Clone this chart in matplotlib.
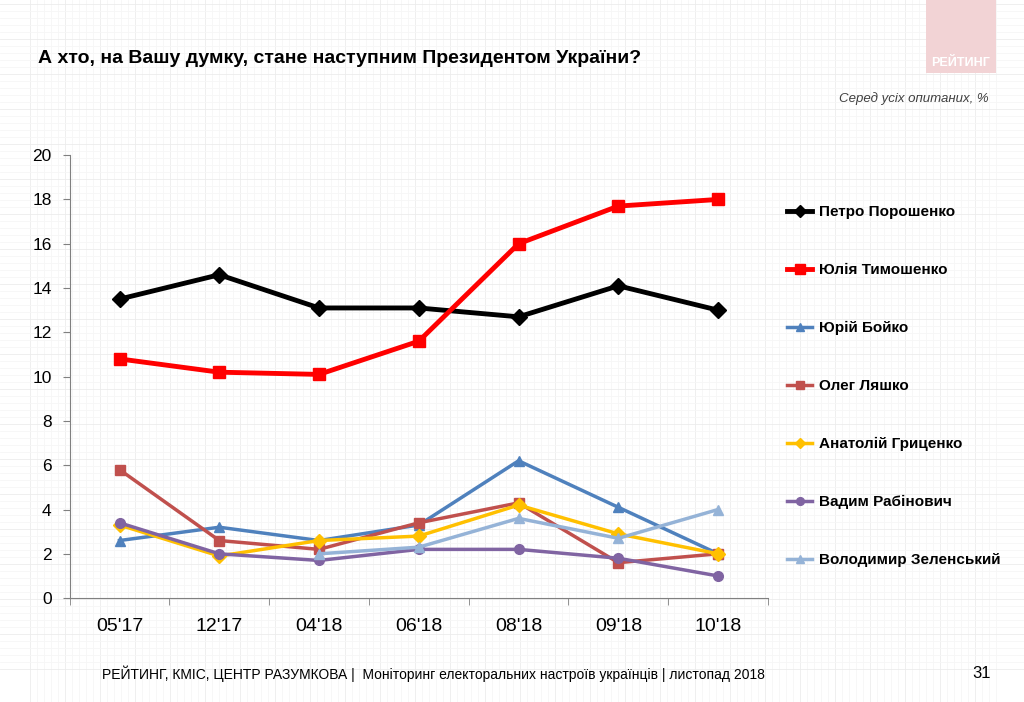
import matplotlib.pyplot as plt
import numpy as np

months = ["05'17", "12'17", "04'18", "06'18", "08'18", "09'18", "10'18"]

poroshenko = [13.5, 14.6, 13.1, 13.1, 12.7, 14.1, 13.0]
tymoshenko = [10.8, 10.2, 10.1, 11.6, 16.0, 17.7, 18.0]
boiko = [2.6, 3.2, 2.6, 3.3, 6.2, 4.1, 2.0]
liashko = [5.8, 2.6, 2.2, 3.4, 4.3, 1.6, 2.0]
hrytsenko = [3.3, 1.9, 2.6, 2.8, 4.2, 2.9, 2.0]
rabinovych = [3.4, 2.0, 1.7, 2.2, 2.2, 1.8, 1.0]
zelenskyi = [np.nan, np.nan, 2.0, 2.3, 3.6, 2.7, 4.0]

names = ['Петро Порошенко', 'Юлія Тимошенко', 'Юрій Бойко', 'Олег Ляшко',
         'Анатолій Гриценко', 'Вадим Рабінович', 'Володимир Зеленський']

plt.rcParams['font.family'] = ['Liberation Sans', 'DejaVu Sans']

fig = plt.figure(figsize=(10.24, 7.02), dpi=100)

# фон "в клітинку"
bg = fig.add_axes([0, 0, 1, 1], zorder=-10)
bg.set_xlim(0, 1024)
bg.set_ylim(702, 0)
for x in np.arange(30, 1000, 7):
    bg.axvline(x, color='#f6f6f6' if (x - 30) % 35 else '#ececec', lw=0.6)
for y in np.arange(4, 670, 7):
    bg.axhline(y, color='#f6f6f6' if (y - 4) % 35 else '#ececec', lw=0.6)
bg.add_patch(plt.Rectangle((926, 0), 70, 73, color='#f2d3d5', lw=0, zorder=3))
bg.text(961, 63, 'РЕЙТИНГ', color='white', fontsize=9, fontweight='bold',
        ha='center', va='center', zorder=4)
bg.axis('off')

ax = fig.add_axes([0.068, 0.148, 0.682, 0.631])
ax.patch.set_alpha(0)
x = np.arange(len(months))

styles = [
    (poroshenko, '#000000', 'D', 3.5, 8),
    (tymoshenko, '#ff0000', 's', 3.5, 9),
    (boiko, '#4f81bd', '^', 2.5, 7),
    (liashko, '#c0504d', 's', 2.5, 7),
    (hrytsenko, '#ffc000', 'D', 2.5, 7),
    (rabinovych, '#8064a2', 'o', 2.5, 7),
    (zelenskyi, '#95b3d7', '^', 2.5, 7),
]
for (vals, col, m, lw, ms), name in zip(styles, names):
    ax.plot(x, vals, color=col, marker=m, lw=lw, ms=ms, label=name)

ax.set_xlim(-0.5, len(months) - 0.5)
ax.set_ylim(0, 20)
ax.set_yticks(range(0, 21, 2))
ax.set_xticks(x)
ax.set_xticklabels(months, fontsize=14)
ax.set_xticks(np.arange(-0.5, len(months)), minor=True)
ax.tick_params(axis='x', which='major', length=0, pad=14)
ax.tick_params(axis='x', which='minor', length=5, color='#808080')
ax.tick_params(axis='y', labelsize=12.5, length=5, color='#808080', pad=8)
for s in ['top', 'right']:
    ax.spines[s].set_visible(False)
for s in ['left', 'bottom']:
    ax.spines[s].set_color('#808080')

leg = ax.legend(loc='upper left', bbox_to_anchor=(1.008, 0.918), frameon=False,
                labelspacing=2.88, handlelength=1.6, handletextpad=0.5,
                markerscale=0.8, prop={'size': 11, 'weight': 'bold'})

fig.text(0.037, 0.917, 'А хто, на Вашу думку, стане наступним Президентом України?',
         fontsize=14, fontweight='bold', va='center')
fig.text(0.965, 0.86, 'Серед усіх опитаних, %', fontsize=9.5, style='italic',
         ha='right', va='center', color='#404040')
fig.text(0.1, 0.04, 'РЕЙТИНГ, КМІС, ЦЕНТР РАЗУМКОВА |  Моніторинг електоральних настроїв українців | листопад 2018',
         fontsize=10, va='center')
fig.text(0.968, 0.04, '31', fontsize=12, ha='right', va='center')

fig.savefig('out.png', dpi=100)
